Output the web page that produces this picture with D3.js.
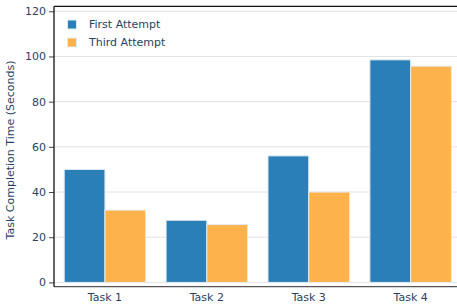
<!DOCTYPE html>
<html>
<head>
<meta charset="utf-8">
<script src="https://cdn.jsdelivr.net/npm/d3@7"></script>
<style>
    body { margin: 0; background: #fff; }
    svg { display: block; font-family: "DejaVu Sans", sans-serif; }
</style>
</head>
<body>
<div id="vis-container"></div>
<script>
// Chart data
const tasks = ["Task 1", "Task 2", "Task 3", "Task 4"];
const seriesNames = ["First Attempt", "Third Attempt"];
const firstAttempt = [50, 27.5, 56, 98.5];
const thirdAttempt = [32, 25.6, 40, 95.7];
const yTicks = [0, 20, 40, 60, 80, 100, 120];
const seriesColors = ["#2a7fb8", "#fdb24b"];

function main()
{
    const width = 457;
    const height = 306;

    // Plot area, in pixels (runs past the right edge of the window)
    const plot = { left: 54, right: 461.6, top: 6.3, bottom: 286.7 };

    const svg = d3.select("#vis-container")
        .append("svg")
        .attr("width", width)
        .attr("height", height);

    // Groups take 80% of each category slot
    const xScale = d3.scaleBand()
        .domain(tasks)
        .range([plot.left, plot.right])
        .paddingInner(0.2)
        .paddingOuter(0.1);

    const yScale = d3.scaleLinear()
        .domain([-1.9, 122.2])
        .range([plot.bottom, plot.top]);

    const inner = d3.scaleBand()
        .domain(seriesNames)
        .range([0, xScale.bandwidth()]);

    // Gridlines
    svg.append("g")
        .selectAll("line")
        .data(yTicks)
        .enter()
        .append("line")
        .attr("x1", plot.left)
        .attr("x2", plot.right)
        .attr("y1", d => yScale(d))
        .attr("y2", d => yScale(d))
        .attr("stroke", "#e2e2e2")
        .attr("stroke-width", 1);

    // Bars
    const series = [firstAttempt, thirdAttempt];
    series.forEach((values, s) => {
        svg.append("g")
            .selectAll("rect")
            .data(values)
            .enter()
            .append("rect")
            .attr("x", (_, i) => xScale(tasks[i]) + inner(seriesNames[s]))
            .attr("y", d => yScale(d))
            .attr("width", inner.bandwidth())
            .attr("height", d => yScale(0) - yScale(d))
            .attr("fill", seriesColors[s])
            .attr("stroke", "#e3ebf2")
            .attr("stroke-width", 1);
    });

    // Y axis
    const yAxis = d3.axisLeft(yScale)
        .tickValues(yTicks)
        .tickSize(5)
        .tickPadding(3);

    const yAxisG = svg.append("g")
        .attr("transform", `translate(${plot.left}, 0)`)
        .call(yAxis);
    yAxisG.select(".domain").remove();
    yAxisG.selectAll("text")
        .attr("fill", "#2a3f5f")
        .style("font-size", "11px")
        .style("font-family", "\"DejaVu Sans\", sans-serif");
    yAxisG.selectAll(".tick line").attr("stroke", "#444");

    // X axis labels
    const xAxis = d3.axisBottom(xScale).tickSize(0).tickPadding(7);
    const xAxisG = svg.append("g")
        .attr("transform", `translate(0, ${plot.bottom})`)
        .call(xAxis);
    xAxisG.select(".domain").remove();
    xAxisG.selectAll("text")
        .attr("fill", "#2a3f5f")
        .style("font-size", "11px")
        .style("font-family", "\"DejaVu Sans\", sans-serif");

    // Frame lines
    svg.append("line")
        .attr("x1", plot.left).attr("x2", plot.right)
        .attr("y1", plot.top).attr("y2", plot.top)
        .attr("stroke", "#111").attr("stroke-width", 1.3);
    svg.append("line")
        .attr("x1", plot.left).attr("x2", plot.right)
        .attr("y1", plot.bottom).attr("y2", plot.bottom)
        .attr("stroke", "#555").attr("stroke-width", 1.3);
    svg.append("line")
        .attr("x1", plot.left).attr("x2", plot.left)
        .attr("y1", plot.top).attr("y2", plot.bottom)
        .attr("stroke", "#111").attr("stroke-width", 1.3);

    // Y axis title
    svg.append("text")
        .attr("transform", "translate(14, 150) rotate(-90)")
        .attr("text-anchor", "middle")
        .attr("fill", "#2a3f5f")
        .style("font-size", "11px")
        .text("Task Completion Time (Seconds)");

    // Legend
    const legend = svg.append("g")
        .attr("transform", "translate(72, 24.5)");
    seriesNames.forEach((name, i) => {
        const row = legend.append("g")
            .attr("transform", `translate(0, ${i * 18})`);
        row.append("rect")
            .attr("x", -4.5)
            .attr("y", -4.5)
            .attr("width", 9)
            .attr("height", 9)
            .attr("fill", seriesColors[i])
            .attr("stroke", "#e3ebf2")
            .attr("stroke-width", 1);
        row.append("text")
            .attr("x", 17)
            .attr("y", 0)
            .attr("dy", "0.35em")
            .attr("fill", "#2a3f5f")
            .style("font-size", "11px")
            .text(name);
    });
}

document.addEventListener("DOMContentLoaded", main);
</script>
</body>
</html>
